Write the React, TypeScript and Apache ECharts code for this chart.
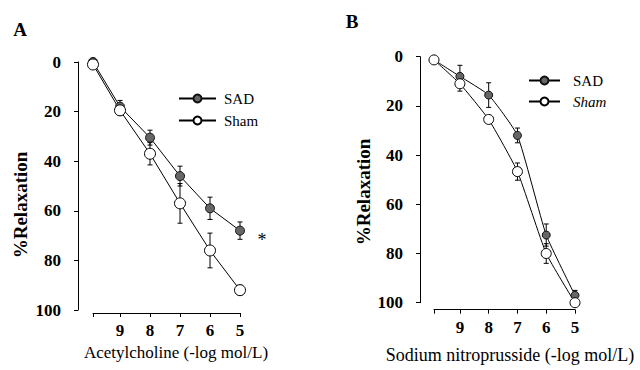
import React, { useEffect, useRef } from "react";
import * as echarts from "echarts";

const concentrations = [9.9, 9, 8, 7, 6, 5];
const xTickLabels = ["9", "8", "7", "6", "5"];
const yTicks = [0, 20, 40, 60, 80, 100];

const achSAD = [0, 18, 30.5, 46, 59, 68];
const achSADErr = [1, 2.5, 3, 4, 4.5, 3.5];
const achSham = [1, 19.5, 37, 57, 76, 92];
const achShamErr = [1, 2, 4.5, 8, 7, 2];

const snpSAD = [1.3, 8, 15.6, 32, 72.5, 97];
const snpSADErr = [1, 4.5, 5, 3, 4.5, 2];
const snpSham = [1.3, 11, 25.5, 46.7, 80, 100];
const snpShamErr = [1, 3, 1.5, 3.5, 4, 1];

const serif = '"Liberation Serif", "Times New Roman", serif';

function pts(vals: number[]) {
  return concentrations.map((c, i) => [c, vals[i]]);
}
function errPts(vals: number[], errs: number[]) {
  return concentrations.map((c, i) => [c, vals[i], errs[i]]);
}

function errorSeries(idx: number, vals: number[], errs: number[]) {
  return {
    type: "custom",
    xAxisIndex: idx,
    yAxisIndex: idx,
    z: 1,
    silent: true,
    encode: { x: 0, y: 1 },
    data: errPts(vals, errs),
    renderItem: (params: any, api: any) => {
      const x = api.value(0);
      const y = api.value(1);
      const e = api.value(2);
      const p1 = api.coord([x, y - e]);
      const p2 = api.coord([x, y + e]);
      const h = 2.5;
      const st = { stroke: "#000", lineWidth: 1 };
      return {
        type: "group",
        children: [
          { type: "line", shape: { x1: p1[0], y1: p1[1], x2: p2[0], y2: p2[1] }, style: st },
          { type: "line", shape: { x1: p1[0] - h, y1: p1[1], x2: p1[0] + h, y2: p1[1] }, style: st },
          { type: "line", shape: { x1: p2[0] - h, y1: p2[1], x2: p2[0] + h, y2: p2[1] }, style: st },
        ],
      };
    },
  };
}

function xAxis(idx: number, offset: number) {
  return {
    type: "value",
    gridIndex: idx,
    min: 5,
    max: 9.9,
    interval: 1,
    inverse: true,
    position: "bottom",
    offset,
    axisLine: { onZero: false, lineStyle: { color: "#000", width: 1 } },
    axisTick: { show: true, length: 4, lineStyle: { color: "#000" } },
    splitLine: { show: false },
    axisLabel: {
      formatter: (v: number) => {
        const s = String(v);
        return xTickLabels.includes(s) ? s : "";
      },
      color: "#000",
      fontFamily: serif,
      fontWeight: "bold",
      fontSize: 17,
      margin: 9,
    },
  };
}

function yAxis(idx: number, offset: number) {
  return {
    type: "value",
    gridIndex: idx,
    min: yTicks[0],
    max: yTicks[yTicks.length - 1],
    interval: 20,
    inverse: true,
    position: "left",
    offset,
    axisLine: { show: true, onZero: false, lineStyle: { color: "#000", width: 1 } },
    axisTick: { show: true, length: 4, lineStyle: { color: "#000" } },
    splitLine: { show: false },
    axisLabel: {
      color: "#000",
      fontFamily: serif,
      fontWeight: "bold",
      fontSize: 17,
      margin: 17,
    },
  };
}

function lineSeries(idx: number, name: string, vals: number[], filled: boolean, size: number, smooth: number) {
  return {
    type: "line",
    name,
    xAxisIndex: idx,
    yAxisIndex: idx,
    data: pts(vals),
    smooth,
    symbol: "circle",
    symbolSize: size,
    z: 3,
    lineStyle: { color: "#000", width: 1 },
    itemStyle: filled
      ? { color: "#666", borderColor: "#111", borderWidth: 1 }
      : { color: "#fff", borderColor: "#000", borderWidth: 1 },
  };
}

export default function App() {
  const ref = useRef<HTMLDivElement>(null);
  useEffect(() => {
    if (!ref.current) return;
    const chart = echarts.init(ref.current, undefined, { renderer: "svg" });
    const option: any = {
      animation: false,
      backgroundColor: "#fff",
      grid: [
        { left: 93, top: 62, width: 147, height: 248, containLabel: false },
        { left: 434, top: 56.7, width: 141, height: 246, containLabel: false },
      ],
      xAxis: [xAxis(0, 3), xAxis(1, 7)],
      yAxis: [yAxis(0, 15), yAxis(1, 14)],
      legend: [
        {
          orient: "vertical",
          left: 173,
          top: 86,
          itemWidth: 37,
          itemHeight: 10,
          itemGap: 7,
          textStyle: { fontFamily: serif, fontSize: 15, color: "#000", padding: [0, 0, 0, 3] },
          data: ["SAD", "Sham"],
        },
        {
          orient: "vertical",
          left: 523,
          top: 68,
          itemWidth: 31,
          itemHeight: 10,
          itemGap: 6,
          textStyle: { fontFamily: serif, fontSize: 15, color: "#000", padding: [0, 0, 0, 8] },
          data: [
            { name: "SAD" },
            { name: "Sham", textStyle: { fontStyle: "italic" } },
          ],
        },
      ],
      graphic: [
        { type: "text", x: 20, y: 29, style: { text: "A", font: `bold 19px ${serif}`, fill: "#000", align: "center", verticalAlign: "middle" } },
        { type: "text", x: 352, y: 21, style: { text: "B", font: `bold 19px ${serif}`, fill: "#000", align: "center", verticalAlign: "middle" } },
        { type: "text", x: 20, y: 205, rotation: Math.PI / 2, style: { text: "%Relaxation", font: `bold 19px ${serif}`, fill: "#000", align: "center", verticalAlign: "middle" } },
        { type: "text", x: 363, y: 192, rotation: Math.PI / 2, style: { text: "%Relaxation", font: `bold 19px ${serif}`, fill: "#000", align: "center", verticalAlign: "middle" } },
        { type: "text", x: 176, y: 352, style: { text: "Acetylcholine (-log mol/L)", font: `17px ${serif}`, fill: "#000", align: "center", verticalAlign: "middle" } },
        { type: "text", x: 510, y: 355, style: { text: "Sodium nitroprusside (-log mol/L)", font: `18px ${serif}`, fill: "#000", align: "center", verticalAlign: "middle" } },
        { type: "text", x: 262, y: 240, style: { text: "*", font: `18px ${serif}`, fill: "#000", align: "center", verticalAlign: "middle" } },
      ],
      series: [
        errorSeries(0, achSAD, achSADErr),
        errorSeries(0, achSham, achShamErr),
        lineSeries(0, "SAD", achSAD, true, 9, 0),
        lineSeries(0, "Sham", achSham, false, 11, 0),
        errorSeries(1, snpSAD, snpSADErr),
        errorSeries(1, snpSham, snpShamErr),
        lineSeries(1, "SAD", snpSAD, true, 8, 0.15),
        lineSeries(1, "Sham", snpSham, false, 10, 0.15),
      ],
    };
    chart.setOption(option);
    return () => chart.dispose();
  }, []);
  return <div ref={ref} style={{ position: "fixed", left: 0, top: 0, width: 640, height: 370 }} />;
}
